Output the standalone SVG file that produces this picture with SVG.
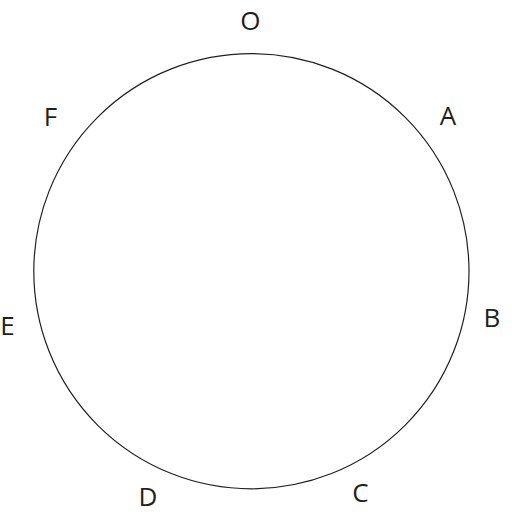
<svg xmlns="http://www.w3.org/2000/svg" width="512" height="518" viewBox="0 0 512 518">
<style>
.lbl{font-family:"Open Sans","Liberation Sans",sans-serif;font-size:26px;fill:#231f20;text-anchor:middle}
.c{fill:none;stroke:#231f20;stroke-width:1.2}
</style>
<rect width="512" height="518" fill="#fff"/>
<g id="circle"><circle class="c" cx="251.4" cy="271.2" r="217.6"/></g>
<g id="connectors"></g>
<g id="O"><text class="lbl" x="250.3" y="29.5">O</text></g>
<g id="A"><text class="lbl" x="448" y="125">A</text></g>
<g id="B"><text class="lbl" x="492" y="327">B</text></g>
<g id="C"><text class="lbl" x="360.5" y="502">C</text></g>
<g id="D"><text class="lbl" x="148" y="506">D</text></g>
<g id="E"><text class="lbl" x="7.5" y="335">E</text></g>
<g id="F"><text class="lbl" x="50.5" y="126">F</text></g>
</svg>
